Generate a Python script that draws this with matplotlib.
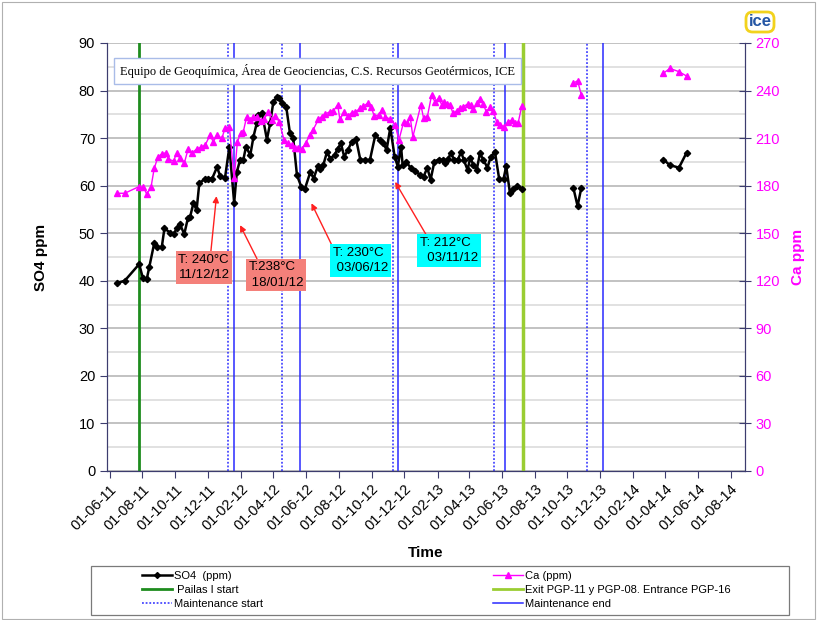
import numpy as np
import matplotlib
matplotlib.use('Agg')
import matplotlib.pyplot as plt
import matplotlib.dates as mdates
from matplotlib.lines import Line2D
from matplotlib.patches import Rectangle

plt.rcParams['font.family'] = ['Liberation Sans', 'DejaVu Sans']

# SO4 (ppm), gaps are nan
so4_dates = [
    '2011-06-14', '2011-06-29', '2011-07-26', '2011-08-02', '2011-08-09', '2011-08-14',
    '2011-08-23', '2011-08-28', '2011-09-06', '2011-09-11', '2011-09-22', '2011-09-28',
    '2011-10-04', '2011-10-10', '2011-10-18', '2011-10-25', '2011-10-29', '2011-11-04',
    '2011-11-10', '2011-11-15', '2011-11-26', '2011-12-02', '2011-12-09', '2011-12-18',
    '2011-12-24', '2012-01-02', '2012-01-10', '2012-01-19', '2012-01-24', '2012-01-30',
    '2012-02-05', '2012-02-10', '2012-02-18', '2012-02-24', '2012-03-01', '2012-03-04',
    '2012-03-11', '2012-03-20', '2012-03-26', '2012-04-01', '2012-04-08', '2012-04-12',
    '2012-04-17', '2012-04-25', '2012-05-02', '2012-05-08', '2012-05-15', '2012-05-23',
    '2012-05-30', '2012-06-09', '2012-06-15', '2012-06-23', '2012-06-27', '2012-07-03',
    '2012-07-10', '2012-07-16', '2012-07-24', '2012-07-30', '2012-08-05', '2012-08-11',
    '2012-08-18', '2012-08-25', '2012-09-02', '2012-09-10', '2012-09-19', '2012-09-28',
    '2012-10-08', '2012-10-17', '2012-10-23', '2012-10-29', '2012-11-05', '2012-11-13',
    '2012-11-19', '2012-11-25', '2012-11-28', '2012-12-04', '2012-12-13', '2012-12-21',
    '2012-12-31', '2013-01-06', '2013-01-13', '2013-01-19', '2013-01-26', '2013-02-03',
    '2013-02-11', '2013-02-15', '2013-02-21', '2013-02-26', '2013-03-04', '2013-03-11',
    '2013-03-17', '2013-03-22', '2013-03-29', '2013-04-03', '2013-04-09', '2013-04-15',
    '2013-04-21', '2013-04-27', '2013-05-05', '2013-05-11', '2013-05-19', '2013-05-27',
    '2013-06-04', '2013-06-09', '2013-06-16', '2013-06-21', '2013-06-30', '2013-07-08',
    '2013-09-01',
    '2013-10-12', '2013-10-20', '2013-10-27',
    '2014-01-01',
    '2014-03-29', '2014-04-10', '2014-04-27', '2014-05-11',
]
so4_ppm = [
    39.5, 40.0, 43.5, 40.5, 40.3, 43.0,
    47.9, 47.2, 47.0, 51.0, 50.1, 49.8,
    51.0, 51.9, 49.8, 53.3, 53.5, 56.3,
    54.9, 60.5, 61.5, 61.5, 61.5, 63.9,
    62.0, 61.7, 68.1, 56.4, 62.9, 65.4,
    65.4, 68.2, 66.4, 70.3, 73.1, 74.9,
    75.2, 69.7, 73.1, 77.6, 78.7, 78.4,
    77.3, 76.6, 71.0, 70.0, 62.2, 59.8,
    59.4, 62.9, 61.5, 64.1, 63.4, 64.3,
    67.1, 65.7, 66.4, 67.8, 68.9, 66.1,
    67.5, 69.2, 69.9, 65.5, 65.4, 65.4,
    70.6, 69.6, 69.0, 67.5, 72.2, 66.1,
    64.0, 68.2, 64.3, 65.0, 63.8, 63.1,
    62.2, 61.9, 63.8, 61.2, 65.0, 65.5,
    65.4, 64.7, 65.7, 66.9, 65.4, 65.5,
    67.1, 65.4, 63.3, 65.9, 64.3, 63.3,
    66.8, 65.5, 63.8, 66.0, 67.1, 61.3,
    61.4, 64.1, 58.4, 59.4, 59.9, 59.4,
    np.nan,
    59.6, 55.7, 59.6,
    np.nan,
    65.5, 64.3, 63.8, 66.9,
]

# Ca (ppm), gaps are nan
ca_dates = [
    '2011-06-14', '2011-06-29', '2011-07-25', '2011-08-03', '2011-08-09', '2011-08-17',
    '2011-08-23', '2011-08-30', '2011-09-06', '2011-09-14', '2011-09-18', '2011-09-28',
    '2011-10-04', '2011-10-10', '2011-10-18', '2011-10-25', '2011-11-02', '2011-11-10',
    '2011-11-18', '2011-11-26', '2011-12-05', '2011-12-11', '2011-12-18', '2011-12-27',
    '2012-01-02', '2012-01-10', '2012-01-19', '2012-01-25', '2012-01-31', '2012-02-05',
    '2012-02-11', '2012-02-18', '2012-02-24', '2012-03-02', '2012-03-09', '2012-03-15',
    '2012-03-22', '2012-03-30', '2012-04-05', '2012-04-12', '2012-04-21', '2012-04-28',
    '2012-05-05', '2012-05-12', '2012-05-17', '2012-05-24', '2012-05-31', '2012-06-08',
    '2012-06-14', '2012-06-24', '2012-06-30', '2012-07-07', '2012-07-15', '2012-07-22',
    '2012-07-30', '2012-08-03', '2012-08-11', '2012-08-18', '2012-08-25', '2012-09-01',
    '2012-09-10', '2012-09-16', '2012-09-24', '2012-09-30', '2012-10-06', '2012-10-14',
    '2012-10-21', '2012-10-27', '2012-11-05', '2012-11-14', '2012-11-21', '2012-11-30',
    '2012-12-07', '2012-12-12', '2012-12-17', '2013-01-01', '2013-01-06', '2013-01-13',
    '2013-01-21', '2013-01-27', '2013-02-03', '2013-02-09', '2013-02-13', '2013-02-19',
    '2013-02-24', '2013-03-02', '2013-03-09', '2013-03-15', '2013-03-21', '2013-03-29',
    '2013-04-04', '2013-04-09', '2013-04-16', '2013-04-21', '2013-04-27', '2013-05-03',
    '2013-05-10', '2013-05-16', '2013-05-22', '2013-05-28', '2013-06-05', '2013-06-13',
    '2013-06-19', '2013-06-25', '2013-07-01', '2013-07-08',
    '2013-09-01',
    '2013-10-12', '2013-10-20', '2013-10-27',
    '2014-01-01',
    '2014-03-29', '2014-04-10', '2014-04-27', '2014-05-11',
]
ca_ppm = [
    175.2, 175.2, 179.3, 179.0, 174.7, 179.0,
    190.9, 198.2, 200.0, 200.8, 196.6, 195.7,
    200.4, 197.2, 194.1, 202.9, 200.8, 203.1,
    204.2, 205.6, 211.9, 207.7, 211.9, 209.8,
    216.2, 217.2, 184.6, 207.7, 213.0, 214.0,
    223.1, 221.4, 223.5, 223.1, 221.0, 221.8,
    226.6, 221.4, 224.0, 220.3, 208.8, 206.7,
    205.6, 203.5, 203.5, 203.0, 206.7, 211.9,
    215.1, 221.8, 223.5, 225.2, 226.6, 227.3,
    230.9, 221.8, 226.6, 224.0, 226.0, 226.6,
    228.8, 230.2, 232.0, 229.8, 224.0, 224.6,
    227.7, 223.5, 221.8, 218.3, 208.8, 220.3,
    219.7, 223.5, 210.9, 230.9, 222.5, 223.5,
    237.2, 232.9, 235.1, 230.9, 232.9, 231.5,
    230.9, 225.6, 227.3, 228.8, 229.8, 231.5,
    230.9, 228.1, 231.9, 234.5, 231.5, 226.6,
    229.4, 227.3, 220.3, 218.3, 217.2, 220.3,
    221.4, 219.3, 219.3, 230.2,
    np.nan,
    244.6, 246.2, 237.2,
    np.nan,
    250.9, 254.0, 251.9, 249.2,
]

pailas_start = ['2011-07-26']
pgp_change = ['2013-07-11']
maint_start = ['2012-01-08', '2012-04-17', '2012-11-10', '2013-05-17', '2013-11-07']
maint_end = ['2012-01-18', '2012-05-21', '2012-11-20', '2013-06-07', '2013-12-06']

note_labels = ['T: 240°C\n11/12/12', 'T:238°C\n 18/01/12', 'T: 230°C\n 03/06/12', 'T: 212°C\n  03/11/12']
note_dates = ['2011-12-17', '2012-01-30', '2012-06-11', '2012-11-14']
note_so4 = [57.8, 51.7, 56.3, 60.8]
note_colors = ['#f4807a', '#f4807a', '#00ffff', '#00ffff']
# box centres (axes fraction) and arrow start on box
note_pos = [(0.152, 0.475), (0.265, 0.458), (0.397, 0.492), (0.536, 0.515)]
note_rel = [(0.63, 1.0), (0.18, 1.0), (0.0, 1.0), (0.13, 1.0)]


def to_dates(lst):
    return np.array(lst, dtype='datetime64[D]')


fig = plt.figure(figsize=(8.17, 6.2), dpi=100)
ax = fig.add_axes([107 / 817, 1 - 471 / 620, 638 / 817, 428 / 620])
ax2 = ax.twinx()

spine_c = '#3c3c6e'
blue = '#2a2aff'

ax.set_ylim(0, 90)
ax.set_yticks(np.arange(0, 91, 10))
ax.set_yticks(np.arange(5, 90, 10), minor=True)
ax.grid(True, axis='y', which='major', color='#b8b8b8', lw=1.2)
ax.grid(True, axis='y', which='minor', color='#dcdcdc', lw=1.2)
ax.set_axisbelow(True)

for d in pailas_start:
    ax.axvline(np.datetime64(d), color='#1e8c1e', lw=2)
for d in pgp_change:
    ax.axvline(np.datetime64(d), color='#9acd32', lw=2.5)
for d in maint_start:
    ax.axvline(np.datetime64(d), color=blue, lw=1.1, ls=(0, (1.2, 1.2)))
for d in maint_end:
    ax.axvline(np.datetime64(d), color=blue, lw=1.1)

ax.plot(to_dates(so4_dates), so4_ppm, color='black', lw=1.8, marker='D', ms=3.2, zorder=5)
ax2.plot(to_dates(ca_dates), ca_ppm, color='#ff00ff', lw=1.0, marker='^', ms=4.5, zorder=4)

ax2.set_ylim(0, 270)
ax2.set_yticks(np.arange(0, 271, 30))

ax.set_xlim(np.datetime64('2011-05-27'), np.datetime64('2014-08-28'))
ax.xaxis.set_major_locator(mdates.MonthLocator(bymonth=[2, 4, 6, 8, 10, 12], bymonthday=1))
ax.xaxis.set_major_formatter(mdates.DateFormatter('%d-%m-%y'))
for lab in ax.get_xticklabels():
    lab.set_rotation(45)
    lab.set_ha('right')
    lab.set_rotation_mode('anchor')

ax.tick_params(axis='both', which='major', labelsize=10.5, length=5, color=spine_c)
ax.tick_params(axis='y', which='minor', length=0)
ax.tick_params(axis='x', pad=3)
ax2.tick_params(axis='y', labelsize=10.5, labelcolor='#ff00ff', length=8, direction='inout', color=spine_c)

for a in (ax, ax2):
    for s in a.spines.values():
        s.set_color(spine_c)
    a.spines['top'].set_visible(False)

ax.set_ylabel('SO4 ppm', fontsize=11, fontweight='bold', labelpad=22)
ax2.set_ylabel('Ca ppm', fontsize=11, fontweight='bold', color='#ff00ff', labelpad=8)
ax.set_xlabel('Time', fontsize=11, fontweight='bold', labelpad=9)

for lab, d, v, c, pos, rel in zip(note_labels, note_dates, note_so4, note_colors, note_pos, note_rel):
    ax.annotate(lab, xy=(np.datetime64(d), v), xycoords='data',
                xytext=pos, textcoords='axes fraction', ha='center', va='center',
                multialignment='left', fontsize=9.5, linespacing=1.35, zorder=10,
                bbox=dict(boxstyle='square,pad=0.2', fc=c, ec='none'),
                arrowprops=dict(arrowstyle='-|>', color='#ff2020', lw=1,
                                mutation_scale=9, shrinkA=0, shrinkB=0, relpos=rel))

ax.text(120 / 817, 1 - 71 / 620,
        'Equipo de Geoquímica, Área de Geociencias, C.S. Recursos Geotérmicos, ICE',
        transform=fig.transFigure, family='Liberation Serif', fontsize=9.0,
        va='center', ha='left', zorder=11,
        bbox=dict(boxstyle='square,pad=0.45', fc='white', ec='#a9bce8', lw=1))

# logo
fig.text(760 / 817, 1 - 22 / 620, 'ice', color='#2456a4', fontsize=12, fontweight='bold',
         ha='center', va='center', zorder=20,
         bbox=dict(boxstyle='round,pad=0.15,rounding_size=0.4', fc='white', ec='#f2d21c', lw=2))

# legend box below the plot
fig.add_artist(Rectangle((91 / 817, 1 - 615 / 620), 698 / 817, 49 / 620,
                         transform=fig.transFigure, fill=False, ec='#7a7a7a', lw=0.9))
h1 = [Line2D([], [], color='black', lw=1.8, marker='D', ms=3),
      Line2D([], [], color='#1e8c1e', lw=2),
      Line2D([], [], color=blue, lw=1.1, ls=(0, (1.2, 1.2)))]
l1 = ['SO4  (ppm)', ' Pailas I start', 'Maintenance start']
h2 = [Line2D([], [], color='#ff00ff', lw=1, marker='^', ms=4.5),
      Line2D([], [], color='#9acd32', lw=2),
      Line2D([], [], color=blue, lw=1.1)]
l2 = ['Ca (ppm)', 'Exit PGP-11 y PGP-08. Entrance PGP-16', 'Maintenance end']
leg_kw = dict(loc='upper left', frameon=False, fontsize=8, labelspacing=0.35,
              handlelength=2.7, handletextpad=0.2, borderpad=0, borderaxespad=0)
fig.legend(h1, l1, bbox_to_anchor=(142 / 817, 1 - 571 / 620), **leg_kw)
fig.legend(h2, l2, bbox_to_anchor=(493 / 817, 1 - 571 / 620), **leg_kw)

fig.add_artist(Rectangle((0.002, 0.002), 0.995, 0.995, transform=fig.transFigure,
                         fill=False, ec='#b0b0b0', lw=0.8))

plt.savefig('out.png', dpi=100)
